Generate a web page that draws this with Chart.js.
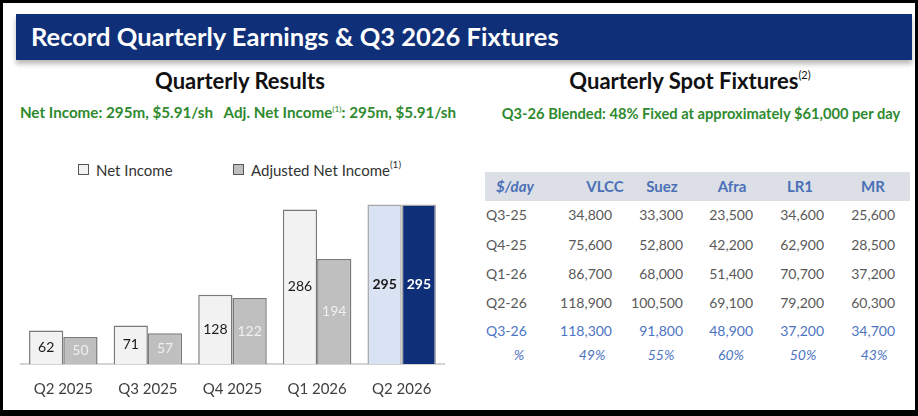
<!DOCTYPE html>
<html>
<head>
<meta charset="utf-8">
<script src="https://cdn.jsdelivr.net/npm/chart.js@4"></script>
<style>
  html, body { margin: 0; padding: 0; background: #000; }
  body { width: 918px; height: 416px; position: relative; overflow: hidden; font-family: Lato, "Open Sans", sans-serif; }
  #panel { position: absolute; left: 3px; top: 3px; width: 912px; height: 407px; background: #fff; }
  #banner { position: absolute; left: 16px; top: 14px; width: 896px; height: 46px; background: #0f2f78;
            box-shadow: 0 4px 5px rgba(0,0,0,0.28); }
  #banner span { position: absolute; left: 15px; top: 7px; color: #fff; font-weight: bold; font-size: 25.5px; }
  .h2 { position: absolute; font-weight: bold; font-size: 22px; color: #111; text-align: center; }
  .green { position: absolute; font-weight: bold; color: #2f8a2f; text-align: center; white-space: nowrap; }
  sup { font-size: 0.55em; vertical-align: 0; position: relative; top: -0.75em; font-weight: normal; }
  .leg { position: absolute; top: 161px; font-size: 15px; color: #333; white-space: nowrap; }
  .leg i { display: inline-block; width: 9px; height: 9px; border: 1px solid #555; margin-right: 7px; vertical-align: 1px; }
  #chartBox { position: absolute; left: 0; top: 186px; width: 460px; height: 220px; }
  #band { position: absolute; left: 485px; top: 172px; width: 425px; height: 29px; background: #dcdfe5; }
  .cell { position: absolute; font-size: 14px; color: #595959; white-space: nowrap; line-height: 18px; }
  .hd { color: #4a70b8; font-weight: bold; font-size: 15px; }
  .blue { color: #4d74c2; }
</style>
</head>
<body>
<div id="panel"></div>
<div id="banner"><span>Record Quarterly Earnings &amp; Q3 2026 Fixtures</span></div>

<div class="h2" style="left:40px; width:400px; top:67px;">Quarterly Results</div>
<div class="green" style="left:0px; width:476px; top:103px; font-size:15.2px;">Net Income: 295m, $5.91/sh &nbsp; Adj. Net Income<sup>(1)</sup>: 295m, $5.91/sh</div>
<div class="leg" style="left:78px;"><i style="background:#f2f2f2"></i>Net Income</div>
<div class="leg" style="left:233px;"><i style="background:#bfbfbf"></i>Adjusted Net Income<sup style="font-size:10px;top:-8px;">(1)</sup></div>
<div id="chartBox"><canvas id="earnings"></canvas></div>

<div class="h2" style="left:490px; width:400px; top:67px;">Quarterly Spot Fixtures<sup style="font-size:11px;top:-10px;">(2)</sup></div>
<div class="green" style="left:480px; width:442px; top:104px; font-size:14.7px;">Q3-26 Blended: 48% Fixed at approximately $61,000 per day</div>
<div id="band"></div>
<div id="table"></div>

<script>
// ---- chart data ----
const quarters = ['Q2 2025', 'Q3 2025', 'Q4 2025', 'Q1 2026', 'Q2 2026'];
const netIncome = [62, 71, 128, 286, 295];
const adjNetIncome = [50, 57, 122, 194, 295];

// ---- spot fixtures table ----
const vessels = ['VLCC', 'Suez', 'Afra', 'LR1', 'MR'];
const fixtureQuarters = ['Q3-25', 'Q4-25', 'Q1-26', 'Q2-26', 'Q3-26'];
const fixtureRates = [
  [34800, 33300, 23500, 34600, 25600],
  [75600, 52800, 42200, 62900, 28500],
  [86700, 68000, 51400, 70700, 37200],
  [118900, 100500, 69100, 79200, 60300],
  [118300, 91800, 48900, 37200, 34700]
];
const fixedPct = [49, 55, 60, 50, 43];

// table layout
const colRight = [612, 683, 753, 824, 895];
const headCenter = [605, 662, 732, 800, 873];
const pctCenter = [592, 661, 731, 803, 874];
const rowY = [215, 245, 274, 303, 331];

const tbl = document.getElementById('table');
function cell(txt, x, y, align, cls) {
  const d = document.createElement('div');
  d.className = 'cell ' + (cls || '');
  d.textContent = txt;
  d.style.top = (y - 9) + 'px';
  if (align === 'right') { d.style.right = (918 - x) + 'px'; }
  else if (align === 'center') { d.style.left = (x - 50) + 'px'; d.style.width = '100px'; d.style.textAlign = 'center'; }
  else { d.style.left = x + 'px'; }
  tbl.appendChild(d);
  return d;
}
cell('$/day', 515, 186, 'center', 'hd').style.fontStyle = 'italic';
vessels.forEach((v, i) => cell(v, headCenter[i], 186, 'center', 'hd'));
fixtureQuarters.forEach((q, r) => {
  const cls = r === fixtureQuarters.length - 1 ? 'blue' : '';
  cell(q, 486, rowY[r], 'left', cls);
  fixtureRates[r].forEach((v, i) => cell(v.toLocaleString('en-US'), colRight[i], rowY[r], 'right', cls));
});
cell('%', 519, 355, 'center', 'blue').style.fontStyle = 'italic';
fixedPct.forEach((p, i) => {
  cell(p + '%', pctCenter[i], 355, 'center', 'blue').style.fontStyle = 'italic';
});

// ---- bar colours ----
const netFill = ['#f2f2f2', '#f2f2f2', '#f2f2f2', '#f2f2f2', '#dae3f3'];
const netBorder = ['#7a7a7a', '#7a7a7a', '#7a7a7a', '#7a7a7a', '#a6a6a6'];
const adjFill = ['#bfbfbf', '#bfbfbf', '#bfbfbf', '#bfbfbf', '#0f2f78'];
const adjBorder = ['#7a7a7a', '#7a7a7a', '#7a7a7a', '#7a7a7a', '#a6a6a6'];

// value labels inside the bars
const barLabels = {
  id: 'barLabels',
  afterDatasetsDraw(chart) {
    const ctx = chart.ctx;
    ctx.save();
    ctx.textAlign = 'center';
    ctx.textBaseline = 'middle';
    chart.data.datasets.forEach((ds, di) => {
      chart.getDatasetMeta(di).data.forEach((bar, i) => {
        const last = i === ds.data.length - 1;
        ctx.font = (last ? 'bold ' : '') + '14px Lato, sans-serif';
        ctx.fillStyle = di === 0 ? '#1a1a1a' : (last ? '#ffffff' : '#f0f0f0');
        ctx.fillText(ds.data[i], bar.x, (bar.y + bar.base) / 2);
      });
    });
    ctx.restore();
  }
};

new Chart(document.getElementById('earnings'), {
  type: 'bar',
  data: {
    labels: quarters,
    datasets: [
      { label: 'Net Income', data: netIncome, backgroundColor: netFill, borderColor: netBorder, borderWidth: 1.5 },
      { label: 'Adjusted Net Income', data: adjNetIncome, backgroundColor: adjFill, borderColor: adjBorder, borderWidth: 1.5 }
    ]
  },
  options: {
    responsive: true,
    maintainAspectRatio: false,
    animation: false,
    categoryPercentage: 0.81,
    barPercentage: 1.0,
    layout: { padding: { left: 21, right: 16, top: 5, bottom: 0 } },
    plugins: { legend: { display: false }, tooltip: { enabled: false } },
    scales: {
      x: {
        grid: { display: false },
        border: { display: true, color: '#d4d4d4', width: 2 },
        ticks: { color: '#404040', font: { family: 'Lato', size: 15 }, padding: 8 }
      },
      y: { display: false, min: 0, max: 320 }
    }
  },
  plugins: [barLabels]
});
</script>
</body>
</html>
